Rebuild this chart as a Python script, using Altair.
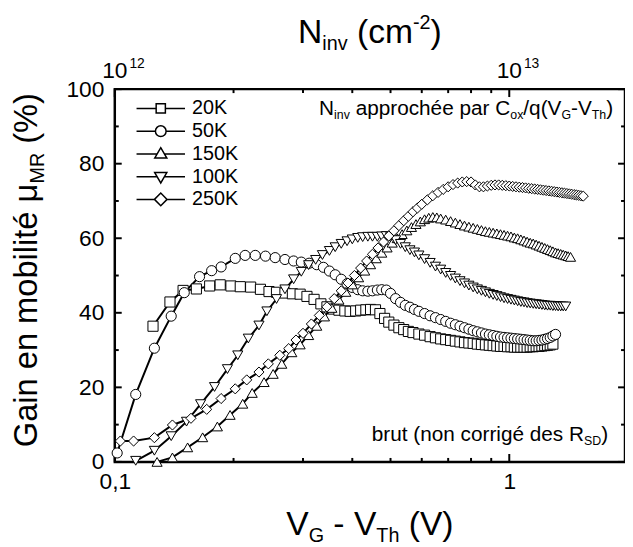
import altair as alt
import pandas as pd

FONT = "Liberation Sans"
W, H = 516, 377
XMAX = 1.965

# ---------------- data ----------------
series = ["20K", "50K", "150K", "100K", "250K"]
shapes = ["square", "circle", "triangle-up", "triangle-down", "diamond"]

V_20K = [0.125, 0.138, 0.149, 0.161, 0.174, 0.185, 0.197, 0.208, 0.221, 0.234,
         0.246, 0.257, 0.270, 0.282, 0.295, 0.307, 0.320, 0.333, 0.345, 0.358,
         0.370, 0.383, 0.395, 0.408, 0.420, 0.433, 0.445, 0.458, 0.470, 0.483,
         0.495, 0.510, 0.525, 0.540, 0.555, 0.570, 0.590, 0.610, 0.630, 0.650,
         0.670, 0.690, 0.710, 0.730, 0.750, 0.770, 0.790, 0.810, 0.830, 0.850,
         0.870, 0.890, 0.910, 0.930, 0.950, 0.970, 0.990, 1.010, 1.030, 1.050,
         1.070, 1.090, 1.110, 1.130, 1.150, 1.170, 1.190, 1.210, 1.230, 1.250,
         1.270, 1.290]
G_20K = [36.4, 42.9, 46.0, 46.4, 47.2, 47.5, 47.2, 47.0, 46.9, 46.3,
         45.7, 45.5, 45.3, 45.1, 45.0, 44.4, 43.6, 42.4, 41.6, 41.0,
         40.7, 40.5, 40.4, 40.5, 40.7, 40.8, 40.9, 40.8, 39.8, 38.5,
         37.5, 36.7, 36.0, 35.5, 35.0, 34.7, 34.3, 34.0, 33.6, 33.3,
         33.0, 32.8, 32.6, 32.4, 32.2, 32.0, 31.9, 31.8, 31.6, 31.5,
         31.4, 31.3, 31.2, 31.1, 31.0, 31.0, 30.9, 30.9, 30.8, 30.8,
         30.8, 30.8, 30.8, 30.9, 30.9, 31.0, 31.0, 31.1, 31.2, 31.3,
         31.4, 31.6]

V_50K = [0.1014, 0.113, 0.126, 0.139, 0.150, 0.164, 0.176, 0.186, 0.202, 0.214,
         0.227, 0.241, 0.255, 0.270, 0.284, 0.297, 0.311, 0.325, 0.338, 0.350,
         0.362, 0.375, 0.388, 0.400, 0.413, 0.425, 0.438, 0.450, 0.463, 0.475,
         0.488, 0.500, 0.515, 0.530, 0.545, 0.560, 0.575, 0.590, 0.610, 0.630,
         0.650, 0.670, 0.690, 0.710, 0.730, 0.750, 0.770, 0.790, 0.810, 0.830,
         0.850, 0.870, 0.890, 0.910, 0.930, 0.950, 0.970, 0.990, 1.010, 1.030,
         1.050, 1.070, 1.090, 1.110, 1.130, 1.150, 1.170, 1.190, 1.210, 1.230,
         1.250, 1.270, 1.290, 1.310]
G_50K = [2.4, 18.1, 30.5, 39.1, 45.4, 49.7, 51.3, 52.3, 54.6, 55.4,
         55.4, 55.2, 54.8, 54.3, 53.9, 53.6, 53.3, 52.9, 52.2, 51.2,
         50.2, 49.0, 47.8, 46.8, 46.2, 45.9, 45.8, 45.9, 46.1, 46.2,
         46.1, 45.2, 43.8, 42.8, 42.0, 41.5, 40.9, 40.4, 39.8, 39.2,
         38.7, 38.2, 37.7, 37.2, 36.8, 36.4, 36.0, 35.6, 35.2, 34.9,
         34.6, 34.3, 34.1, 33.9, 33.7, 33.5, 33.4, 33.3, 33.2, 33.1,
         33.0, 32.9, 32.8, 32.7, 32.6, 32.5, 32.5, 32.6, 32.7, 32.9,
         33.1, 33.4, 33.8, 34.2]

V_150K = [0.128, 0.140, 0.153, 0.167, 0.182, 0.196, 0.211, 0.223, 0.239, 0.252,
          0.265, 0.281, 0.295, 0.310, 0.325, 0.340, 0.355, 0.370, 0.385, 0.400,
          0.415, 0.430, 0.445, 0.460, 0.475, 0.490, 0.505, 0.520, 0.535, 0.550,
          0.565, 0.580, 0.595, 0.610, 0.625, 0.640, 0.655, 0.670, 0.690, 0.710,
          0.730, 0.750, 0.770, 0.790, 0.810, 0.830, 0.850, 0.870, 0.890, 0.910,
          0.930, 0.950, 0.970, 0.990, 1.010, 1.030, 1.050, 1.070, 1.090, 1.110,
          1.130, 1.150, 1.170, 1.190, 1.210, 1.230, 1.250, 1.270, 1.290, 1.310,
          1.330, 1.350, 1.370, 1.390, 1.410, 1.430]
G_150K = [0.0, 1.2, 3.9, 6.6, 9.5, 12.6, 15.6, 18.5, 21.4, 23.6,
          26.3, 29.4, 31.5, 34.0, 36.5, 39.0, 41.3, 43.5, 45.6, 47.6,
          49.5, 51.3, 53.0, 54.6, 56.1, 57.5, 58.8, 60.0, 61.1, 62.1,
          63.0, 63.8, 64.5, 65.1, 65.5, 65.7, 65.6, 65.3, 65.0, 64.6,
          64.2, 63.8, 63.4, 63.1, 62.8, 62.5, 62.2, 61.9, 61.7, 61.5,
          61.3, 61.1, 60.9, 60.7, 60.5, 60.2, 60.0, 59.7, 59.4, 59.1,
          58.8, 58.6, 58.3, 58.0, 57.7, 57.4, 57.1, 56.8, 56.5, 56.2,
          56.0, 55.8, 55.6, 55.4, 55.2, 55.0]

V_100K = [0.113, 0.126, 0.139, 0.152, 0.165, 0.179, 0.193, 0.205, 0.218, 0.232,
          0.243, 0.257, 0.270, 0.284, 0.297, 0.310, 0.323, 0.336, 0.350, 0.362,
          0.375, 0.388, 0.400, 0.413, 0.425, 0.438, 0.450, 0.463, 0.475, 0.488,
          0.500, 0.515, 0.530, 0.545, 0.560, 0.575, 0.590, 0.610, 0.630, 0.650,
          0.670, 0.690, 0.710, 0.730, 0.750, 0.770, 0.790, 0.810, 0.830, 0.850,
          0.870, 0.890, 0.910, 0.930, 0.950, 0.970, 0.990, 1.010, 1.030, 1.050,
          1.070, 1.090, 1.110, 1.130, 1.150, 1.170, 1.190, 1.210, 1.230, 1.250,
          1.270, 1.290, 1.310, 1.330, 1.350, 1.370, 1.390]
G_100K = [0.3, 3.0, 6.9, 10.8, 15.5, 20.1, 24.9, 28.6, 33.1, 36.6,
          40.4, 43.7, 46.3, 49.0, 51.0, 52.8, 54.2, 55.5, 56.6, 57.6,
          58.5, 59.2, 59.7, 60.1, 60.3, 60.4, 60.4, 60.4, 60.5, 60.6,
          60.3, 59.5, 58.5, 57.6, 56.8, 56.2, 55.4, 54.4, 53.4, 52.4,
          51.6, 50.7, 49.9, 49.2, 48.5, 47.9, 47.3, 46.8, 46.3, 45.9,
          45.5, 45.1, 44.8, 44.5, 44.2, 43.9, 43.7, 43.5, 43.3, 43.1,
          42.9, 42.8, 42.6, 42.5, 42.4, 42.3, 42.2, 42.1, 42.0, 41.9,
          41.9, 41.8, 41.8, 41.7, 41.7, 41.7, 41.7]

V_250K = [0.1033, 0.1116, 0.126, 0.140, 0.156, 0.171, 0.186, 0.202, 0.216, 0.232,
          0.245, 0.262, 0.276, 0.288, 0.300, 0.315, 0.330, 0.345, 0.360, 0.375,
          0.390, 0.405, 0.420, 0.435, 0.450, 0.465, 0.480, 0.495, 0.510, 0.525,
          0.540, 0.555, 0.570, 0.585, 0.600, 0.620, 0.640, 0.660, 0.680, 0.700,
          0.720, 0.740, 0.760, 0.780, 0.800, 0.820, 0.840, 0.860, 0.880, 0.900,
          0.920, 0.940, 0.960, 0.980, 1.000, 1.020, 1.040, 1.060, 1.080, 1.100,
          1.120, 1.140, 1.160, 1.180, 1.200, 1.220, 1.240, 1.260, 1.280, 1.300,
          1.320, 1.340, 1.360, 1.380, 1.400, 1.420, 1.440, 1.460, 1.480, 1.500,
          1.520, 1.540]
G_250K = [5.6, 5.6, 6.5, 9.9, 11.7, 14.1, 17.0, 19.6, 22.0, 24.1,
          26.3, 28.6, 30.4, 32.7, 34.5, 37.0, 39.3, 41.6, 43.8, 45.9,
          48.0, 50.0, 52.0, 53.9, 55.7, 57.4, 59.0, 60.6, 62.0, 63.4,
          64.7, 65.9, 67.1, 68.1, 69.1, 70.3, 71.4, 72.3, 73.1, 73.8,
          74.4, 74.8, 75.1, 75.2, 75.1, 74.3, 73.8, 73.8, 74.0, 74.2,
          74.3, 74.3, 74.2, 74.1, 74.0, 73.9, 73.8, 73.7, 73.6, 73.5,
          73.4, 73.3, 73.2, 73.1, 73.0, 72.9, 72.8, 72.7, 72.6, 72.5,
          72.4, 72.3, 72.2, 72.1, 72.0, 71.9, 71.8, 71.7, 71.6, 71.5,
          71.4, 71.3]

y_major = [0, 20, 40, 60, 80, 100]
y_minor = [10, 30, 50, 70, 90]
x_major = [0.1, 1.0]
x_minor = [0.2, 0.3, 0.4, 0.5, 0.6, 0.7, 0.8, 0.9]
top_exp = ["12", "13"]

# ---------------- tables ----------------
frames = []
for name, vs, gs in [("20K", V_20K, G_20K), ("50K", V_50K, G_50K),
                     ("150K", V_150K, G_150K), ("100K", V_100K, G_100K),
                     ("250K", V_250K, G_250K)]:
    f = pd.DataFrame({"V": vs, "gain": gs})
    f["serie"] = name
    frames.append(f)
data = pd.concat(frames, ignore_index=True)

ONE = pd.DataFrame({"k": [0]})

xs = alt.Scale(type="log", domain=[0.1, XMAX], nice=False)
ys = alt.Scale(domain=[0, 100], nice=False, zero=False)

AX_X = alt.Axis(values=x_major, labelExpr="datum.value < 0.5 ? '0,1' : '1'",
                ticks=False, tickSize=0, domain=False, grid=False, title=None,
                labelFont=FONT, labelFontSize=23, labelColor="black",
                labelPadding=9, labelFlush=False, labelOverlap=False)
AX_Y = alt.Axis(values=y_major, ticks=False, tickSize=0, domain=False, title=None,
                grid=False, labelFont=FONT, labelFontSize=23,
                labelColor="black", labelPadding=11)


def X(field):
    return alt.X(field, scale=xs, title=None, axis=AX_X)


def Y(field):
    return alt.Y(field, scale=ys, title=None, axis=AX_Y)


# Arial / Liberation Sans advance widths (1/1000 em)
AW = {" ": 278, "(": 333, ")": 333, "-": 333, "/": 278, "%": 889, ",": 278,
      "C": 722, "D": 722, "G": 778, "K": 667, "M": 833, "N": 722, "R": 722,
      "S": 667, "T": 611, "V": 667,
      "a": 556, "b": 556, "c": 500, "d": 556, "e": 556, "é": 556, "g": 556,
      "h": 556, "i": 222, "l": 222, "m": 833, "n": 556, "o": 556, "p": 556,
      "q": 556, "r": 333, "s": 500, "t": 278, "u": 556, "v": 500, "x": 500,
      "μ": 576}


def tw(s, size):
    return sum(AW.get(c, 556) for c in s) * size / 1000.0


def rich(segs, x0, y0, align="left", rotate=False):
    total = sum(tw(t, s) for t, s, _ in segs)
    pos = {"left": 0.0, "center": -total / 2.0, "right": -total}[align]
    out = []
    for t, s, sh in segs:
        lead = len(t) - len(t.lstrip(" "))
        p = pos + tw(" " * lead, s)
        txt = t.strip(" ")
        if rotate:
            x, y, ang = x0 + sh, y0 - p, 270
        else:
            x, y, ang = x0 + p, y0 + sh, 0
        out.append(alt.Chart(ONE).mark_text(
            text=txt, font=FONT, fontSize=s, color="black", align="left",
            baseline="alphabetic", angle=ang).encode(x=alt.value(x), y=alt.value(y)))
        pos += tw(t, s)
    return out


# ---------------- layers ----------------
lines = alt.Chart(data).mark_line(color="black", strokeWidth=2).encode(
    x=X("V:Q"), y=Y("gain:Q"), detail="serie:N", order="V:Q",
)

points = alt.Chart(data).mark_point(
    filled=True, fill="white", stroke="black", strokeWidth=1, size=105, opacity=1
).encode(
    x=X("V:Q"), y=Y("gain:Q"),
    shape=alt.Shape("serie:N", scale=alt.Scale(domain=series, range=shapes), legend=None),
)

legend_paths = [
    "M-1,0L-0.19,0M0.19,0L1,0M-0.19,-0.19L0.19,-0.19L0.19,0.19L-0.19,0.19Z",
    "M-1,0L-0.22,0M0.22,0L1,0M-0.22,0A0.22,0.22,0,1,1,0.22,0A0.22,0.22,0,1,1,-0.22,0Z",
    "M-1,0L-0.151,0M0.151,0L1,0M-0.25,0.17L0,-0.26L0.25,0.17Z",
    "M-1,0L-0.151,0M0.151,0L1,0M-0.25,-0.17L0,0.26L0.25,-0.17Z",
    "M-1,0L-0.26,0M0.26,0L1,0M-0.26,0L0,-0.26L0.26,0L0,0.26Z",
]

legend_layer = alt.Chart(data).transform_filter("datum.V < 0").mark_point(
    filled=False, color="black", strokeWidth=1.5, opacity=1
).encode(
    x=X("V:Q"), y=Y("gain:Q"),
    shape=alt.Shape("serie:N", scale=alt.Scale(domain=series, range=legend_paths),
                    legend=alt.Legend(title=None, orient="none", legendX=21, legendY=8,
                                      symbolSize=2401, symbolStrokeWidth=1.5,
                                      symbolStrokeColor="black",
                                      symbolOpacity=1, labelFont=FONT, labelFontSize=20,
                                      labelColor="black", labelOffset=6, clipHeight=23,
                                      rowPadding=0, symbolOffset=0, padding=0)),
)

tick_y_major = pd.DataFrame({"t": y_major})
tick_y_minor = pd.DataFrame({"t": y_minor})
tick_x_major = pd.DataFrame({"t": x_major})
tick_x_minor = pd.DataFrame({"t": x_minor})


def yticks(df, length):
    left = alt.Chart(df).mark_rule(color="black", strokeWidth=2).encode(
        y=Y("t:Q"), x=alt.value(0), x2=alt.value(length))
    right = alt.Chart(df).mark_rule(color="black", strokeWidth=2).encode(
        y=Y("t:Q"), x=alt.value(W), x2=alt.value(W - length))
    return [left, right]


def xticks(df, length):
    bottom = alt.Chart(df).mark_rule(color="black", strokeWidth=2).encode(
        x=X("t:Q"), y=alt.value(H), y2=alt.value(H - length))
    top = alt.Chart(df).mark_rule(color="black", strokeWidth=2).encode(
        x=X("t:Q"), y=alt.value(0), y2=alt.value(length))
    return [bottom, top]


ticks = yticks(tick_y_major, 7) + yticks(tick_y_minor, 4) + \
    xticks(tick_x_major, 8) + xticks(tick_x_minor, 4)

top_df = pd.DataFrame({"t": x_major, "exp": top_exp})
top_base = alt.Chart(top_df).mark_text(
    text="10", font=FONT, fontSize=23, color="black", align="center", baseline="alphabetic"
).encode(x=X("t:Q"), y=alt.value(-11))
top_sup = alt.Chart(top_df).mark_text(
    font=FONT, fontSize=14, color="black", align="left", baseline="alphabetic",
    dx=tw("10", 23) / 2 + 2
).encode(x=X("t:Q"), y=alt.value(-21), text="exp:N")

texts = []
texts += rich([("N", 21, 0), ("inv", 12.5, 4), (" approchée par C", 21, 0), ("ox", 12.5, 4),
               ("/q(V", 21, 0), ("G", 12.5, 4), ("-V", 21, 0), ("Th", 12.5, 4), (")", 21, 0)],
              504, 26, align="right")
texts += rich([("brut (non corrigé des R", 21, 0), ("SD", 12.5, 4), (")", 21, 0)],
              499, 356, align="right")
texts += rich([("N", 34, 0), ("inv", 20, 7), (" (cm", 34, 0), ("-2", 20, -14), (")", 34, 0)],
              W / 2, -47, align="center")
texts += rich([("V", 34, 0), ("G", 20, 7), (" - V", 34, 0), ("Th", 20, 7), (" (V)", 34, 0)],
              W / 2, 451, align="center")
texts += rich([("Gain en mobilité μ", 33, 0), ("MR", 20, 7), (" (%)", 33, 0)],
              -79, 183, align="center", rotate=True)

chart = alt.layer(
    lines, *ticks, points, legend_layer, top_base, top_sup, *texts
).resolve_scale(shape="independent").properties(
    width=W, height=H,
    padding={"left": 108, "top": 79, "right": 0, "bottom": 83},
    autosize=alt.AutoSizeParams(type="none"),
).configure_view(stroke="black", strokeWidth=2.5)

chart.save("out.html", embed_options={"renderer": "svg", "actions": False})
